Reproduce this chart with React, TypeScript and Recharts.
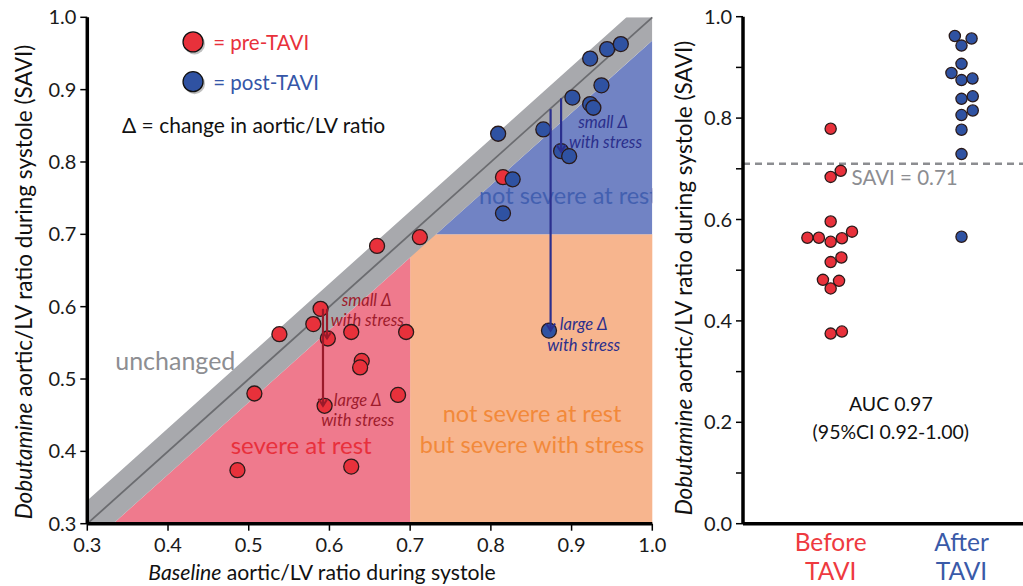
import React from 'react';
import {
  ComposedChart,
  Scatter,
  XAxis,
  YAxis,
  Area,
  ReferenceArea,
  ReferenceLine,
} from 'recharts';

const FONT = 'Lato, "Noto Sans", sans-serif';

// ---------- Left panel data ----------
const axisTicks = [0.3, 0.4, 0.5, 0.6, 0.7, 0.8, 0.9, 1.0];

const preBaseline = [0.589, 0.580, 0.538, 0.598, 0.507, 0.594, 0.486, 0.627, 0.695, 0.640, 0.638, 0.685, 0.627, 0.659, 0.712, 0.815];
const preDobutamine = [0.597, 0.576, 0.562, 0.556, 0.480, 0.463, 0.374, 0.565, 0.565, 0.525, 0.516, 0.478, 0.379, 0.684, 0.696, 0.779];
const postBaseline = [0.809, 0.865, 0.923, 0.944, 0.961, 0.937, 0.901, 0.923, 0.927, 0.887, 0.897, 0.827, 0.815, 0.872];
const postDobutamine = [0.839, 0.845, 0.943, 0.956, 0.963, 0.906, 0.889, 0.880, 0.875, 0.815, 0.808, 0.776, 0.729, 0.567];

// region outlines (x, [low, high])
const unchangedBand = [
  { x: 0.3, r: [0.3, 0.332] },
  { x: 0.332, r: [0.3, 0.364] },
  { x: 0.968, r: [0.936, 1.0] },
  { x: 1.0, r: [0.968, 1.0] },
];
const severeAtRest = [
  { x: 0.332, r: [0.3, 0.3] },
  { x: 0.7, r: [0.3, 0.668] },
];
const notSevereAtRest = [
  { x: 0.732, r: [0.7, 0.7] },
  { x: 1.0, r: [0.7, 0.968] },
];
const stressOnly = { x1: 0.7, x2: 1.0, y1: 0.3, y2: 0.7 };

const arrows = [
  { group: 'pre', x: 0.592, from: 0.597, to: 0.463 },
  { group: 'pre', x: 0.597, from: 0.597, to: 0.556 },
  { group: 'post', x: 0.887, from: 0.888, to: 0.814 },
  { group: 'post', x: 0.874, from: 0.873, to: 0.567 },
];

const legendDots = [
  { x: 0.431, y: 0.966, group: 'pre' },
  { x: 0.431, y: 0.911, group: 'post' },
];

const leftNotes = [
  { x: 0.456, y: 0.966, text: '= pre-TAVI', kind: 'legendPre' },
  { x: 0.456, y: 0.911, text: '= post-TAVI', kind: 'legendPost' },
  { x: 0.343, y: 0.852, text: 'Δ = change in aortic/LV ratio', kind: 'legendText' },
  { x: 0.409, y: 0.526, text: 'unchanged', kind: 'unchanged' },
  { x: 0.565, y: 0.409, text: 'severe at rest', kind: 'severe' },
  { x: 0.851, y: 0.453, text: 'not severe at rest', kind: 'stress' },
  { x: 0.851, y: 0.410, text: 'but severe with stress', kind: 'stress' },
  { x: 0.896, y: 0.755, text: 'not severe at rest', kind: 'notSevere' },
  { x: 0.646, y: 0.609, text: 'small Δ', kind: 'annoPre' },
  { x: 0.647, y: 0.582, text: 'with stress', kind: 'annoPre' },
  { x: 0.635, y: 0.471, text: 'large Δ', kind: 'annoPre' },
  { x: 0.635, y: 0.443, text: 'with stress', kind: 'annoPre' },
  { x: 0.939, y: 0.855, text: 'small Δ', kind: 'annoPost' },
  { x: 0.942, y: 0.828, text: 'with stress', kind: 'annoPost' },
  { x: 0.915, y: 0.576, text: 'large Δ', kind: 'annoPost' },
  { x: 0.915, y: 0.547, text: 'with stress', kind: 'annoPost' },
];

// ---------- Right panel data ----------
const rightTicks = [0, 0.1, 0.2, 0.3, 0.4, 0.5, 0.6, 0.7, 0.8, 0.9, 1.0];
const categories = [
  { pos: 1, lines: ['Before', 'TAVI'], group: 'pre' },
  { pos: 2, lines: ['After', 'TAVI'], group: 'post' },
];
const beforeSavi = [0.779, 0.696, 0.684, 0.596, 0.564, 0.564, 0.556, 0.563, 0.576, 0.525, 0.516, 0.481, 0.479, 0.464, 0.375, 0.379];
const beforeJitter = [0, 0.077, 0, 0, -0.178, -0.09, 0, 0.086, 0.163, 0.082, 0, -0.059, 0.064, 0, 0, 0.086];
const afterSavi = [0.962, 0.957, 0.943, 0.907, 0.889, 0.875, 0.878, 0.838, 0.843, 0.806, 0.815, 0.777, 0.729, 0.566];
const afterJitter = [-0.051, 0.077, 0, 0, -0.077, 0, 0.084, 0, 0.086, 0, 0.086, 0, 0, 0];
const saviCutoff = 0.71;

const rightNotes = [
  { x: 1.16, y: 0.684, text: 'SAVI = 0.71', kind: 'savi' },
  { x: 1.46, y: 0.2375, text: 'AUC 0.97', kind: 'auc' },
  { x: 1.46, y: 0.181, text: '(95%CI 0.92-1.00)', kind: 'auc' },
];

// ---------- Styles ----------
const COLORS = {
  pre: '#e8313b',
  post: '#2f52a2',
  outline: '#2a1a1a',
  preArrow: '#9a1a2a',
  postArrow: '#2b2f8e',
  band: '#a8a9ad',
  diag: '#6b6c70',
  pink: '#ef7a8d',
  orange: '#f7b58e',
  blue: '#7183c4',
};

const noteStyles: Record<string, any> = {
  legendPre: { color: '#e8313b', size: 20.5, anchor: 'start' },
  legendPost: { color: '#3556a8', size: 20.5, anchor: 'start' },
  legendText: { color: '#111111', size: 21, anchor: 'start' },
  unchanged: { color: '#8d8e92', size: 25, anchor: 'middle' },
  severe: { color: '#e8303c', size: 24, anchor: 'middle' },
  stress: { color: '#f2893a', size: 23.5, anchor: 'middle' },
  notSevere: { color: '#4360b0', size: 23.5, anchor: 'middle' },
  annoPre: { color: '#9e1c2c', size: 16.5, anchor: 'middle', italic: true },
  annoPost: { color: '#2b2f8c', size: 16.5, anchor: 'middle', italic: true },
  savi: { color: '#8c8d91', size: 20.5, anchor: 'start' },
  auc: { color: '#111111', size: 19.5, anchor: 'middle' },
};

const NoteShape = (p: any) => {
  const n = p.payload;
  const s = noteStyles[n.kind];
  return (
    <text
      x={p.cx}
      y={p.cy}
      textAnchor={s.anchor}
      dominantBaseline="central"
      fontFamily={FONT}
      fontSize={s.size}
      fontStyle={s.italic ? 'italic' : 'normal'}
      fill={s.color}
    >
      {n.text}
    </text>
  );
};

const dotShape = (r: number, fill: string) => (p: any) => (
  <circle cx={p.cx} cy={p.cy} r={r} fill={fill} stroke={COLORS.outline} strokeWidth={1.3} />
);

const LegendDotShape = (p: any) => (
  <g>
    <circle cx={p.cx + 1.5} cy={p.cy + 2} r={10.5} fill="rgba(0,0,0,0.25)" />
    <circle cx={p.cx} cy={p.cy} r={10} fill={COLORS[p.payload.group as 'pre' | 'post']} stroke="#111" strokeWidth={1.3} />
  </g>
);

const arrowShape = (color: string) => (p: any) => {
  const { x1, y1, x2, y2 } = p;
  return (
    <g>
      <line x1={x1} y1={y1} x2={x2} y2={y2} stroke={color} strokeWidth={2.2} />
      <polyline
        points={`${x2 - 4.5},${y2 - 7} ${x2},${y2} ${x2 + 4.5},${y2 - 7}`}
        fill="none"
        stroke={color}
        strokeWidth={2}
      />
    </g>
  );
};

const tickStyle = { fontFamily: FONT, fontSize: 20, fill: '#1a1a1a' };

const YTitle = ({ cx, cy }: { cx: number; cy: number }) => (
  <text
    transform={`translate(${cx},${cy}) rotate(-90)`}
    textAnchor="middle"
    dominantBaseline="central"
    fontFamily={FONT}
    fontSize={22.6}
    fill="#111"
  >
    <tspan fontStyle="italic">Dobutamine</tspan> aortic/LV ratio during systole (SAVI)
  </text>
);

const LeftPanel = () => {
  const preData = preBaseline.map((x, i) => ({ x, y: preDobutamine[i] }));
  const postData = postBaseline.map((x, i) => ({ x, y: postDobutamine[i] }));
  return (
    <ComposedChart
      width={680}
      height={586}
      margin={{ top: 17.3, right: 27.7, bottom: 22.3, left: 0 }}
    >
      <XAxis
        dataKey="x"
        type="number"
        domain={[0.3, 1.0]}
        ticks={axisTicks}
        allowDataOverflow
        tickFormatter={(v: number) => v.toFixed(1)}
        tick={tickStyle}
        tickSize={7}
        tickMargin={7}
        height={40}
        axisLine={{ stroke: '#000', strokeWidth: 3.5 }}
        tickLine={{ stroke: '#000', strokeWidth: 1.5 }}
        label={{
          content: (props: any) => {
            const vb = props.viewBox;
            return (
              <text
                x={vb.x + 234.7}
                y={572}
                textAnchor="middle"
                dominantBaseline="central"
                fontFamily={FONT}
                fontSize={21.2}
                fill="#111"
              >
                <tspan fontStyle="italic">Baseline</tspan> aortic/LV ratio during systole
              </text>
            );
          },
        }}
      />
      <YAxis
        dataKey="y"
        type="number"
        domain={[0.3, 1.0]}
        ticks={axisTicks}
        allowDataOverflow
        tickFormatter={(v: number) => v.toFixed(1)}
        tick={tickStyle}
        tickSize={7}
        tickMargin={4}
        width={87.3}
        axisLine={{ stroke: '#000', strokeWidth: 3.5 }}
        tickLine={{ stroke: '#000', strokeWidth: 1.5 }}
        label={{
          content: (props: any) => {
            const vb = props.viewBox;
            return <YTitle cx={vb.x + 23} cy={282} />;
          },
        }}
      />
      <ReferenceArea {...stressOnly} fill={COLORS.orange} fillOpacity={1} stroke="none" />
      <Area data={severeAtRest} dataKey="r" type="linear" fill={COLORS.pink} fillOpacity={1} stroke="none" isAnimationActive={false} activeDot={false} />
      <Area data={notSevereAtRest} dataKey="r" type="linear" fill={COLORS.blue} fillOpacity={1} stroke="none" isAnimationActive={false} activeDot={false} />
      <Area data={unchangedBand} dataKey="r" type="linear" fill={COLORS.band} fillOpacity={1} stroke="none" isAnimationActive={false} activeDot={false} />
      <ReferenceLine segment={[{ x: 0.3, y: 0.3 }, { x: 1.0, y: 1.0 }]} stroke={COLORS.diag} strokeWidth={1.8} />
      <Scatter data={leftNotes} shape={NoteShape} isAnimationActive={false} />
      <Scatter data={legendDots} shape={LegendDotShape} isAnimationActive={false} />
      <Scatter data={preData} shape={dotShape(7.5, COLORS.pre)} isAnimationActive={false} />
      <Scatter data={postData} shape={dotShape(7.5, COLORS.post)} isAnimationActive={false} />
      {arrows.map((a, i) => (
        <ReferenceLine
          key={i}
          segment={[{ x: a.x, y: a.from }, { x: a.x, y: a.to }]}
          shape={arrowShape(a.group === 'pre' ? COLORS.preArrow : COLORS.postArrow)}
          zIndex={700}
        />
      ))}
    </ComposedChart>
  );
};

const CategoryTick = (p: any) => {
  const cat = categories.find((c) => c.pos === p.payload.value);
  if (!cat) return null;
  const color = cat.group === 'pre' ? '#ee3a40' : '#3a5aa8';
  return (
    <g>
      {cat.lines.map((l, i) => (
        <text
          key={i}
          x={p.x}
          y={523.7 + 17.5 + i * 28.8}
          textAnchor="middle"
          dominantBaseline="central"
          fontFamily={FONT}
          fontSize={24.5}
          fill={color}
        >
          {l}
        </text>
      ))}
    </g>
  );
};

const RightPanel = () => {
  const beforeData = beforeSavi.map((y, i) => ({ x: categories[0].pos + beforeJitter[i], y }));
  const afterData = afterSavi.map((y, i) => ({ x: categories[1].pos + afterJitter[i], y }));
  return (
    <ComposedChart
      width={363}
      height={586}
      margin={{ top: 16.7, right: 0, bottom: 0, left: 0 }}
    >
      <XAxis
        dataKey="x"
        type="number"
        domain={[0.33, 2.47]}
        ticks={categories.map((c) => c.pos)}
        allowDataOverflow
        tick={<CategoryTick />}
        tickLine={false}
        height={62.3}
        axisLine={{ stroke: '#000', strokeWidth: 3.5 }}
      />
      <YAxis
        dataKey="y"
        type="number"
        domain={[0, 1.0]}
        ticks={rightTicks}
        allowDataOverflow
        tickFormatter={(v: number) => (Math.round(v * 10) % 2 === 0 ? v.toFixed(1) : '')}
        tick={tickStyle}
        tickSize={7}
        tickMargin={4}
        width={83}
        axisLine={{ stroke: '#000', strokeWidth: 3.5 }}
        tickLine={{ stroke: '#000', strokeWidth: 1.5 }}
        label={{
          content: (props: any) => {
            const vb = props.viewBox;
            return <YTitle cx={vb.x + 23} cy={278} />;
          },
        }}
      />
      <ReferenceLine y={saviCutoff} stroke="#8c8d91" strokeWidth={2.5} strokeDasharray="7 5" />
      <Scatter data={rightNotes} shape={NoteShape} isAnimationActive={false} />
      <Scatter data={beforeData} shape={dotShape(5.6, COLORS.pre)} isAnimationActive={false} />
      <Scatter data={afterData} shape={dotShape(5.6, COLORS.post)} isAnimationActive={false} />
    </ComposedChart>
  );
};

export default function App() {
  return (
    <div style={{ position: 'absolute', left: 0, top: 0, width: 1023, height: 586, background: '#fff', overflow: 'hidden' }}>
      <div style={{ position: 'absolute', left: 0, top: 0 }}>
        <LeftPanel />
      </div>
      <div style={{ position: 'absolute', left: 660, top: 0 }}>
        <RightPanel />
      </div>
    </div>
  );
}
